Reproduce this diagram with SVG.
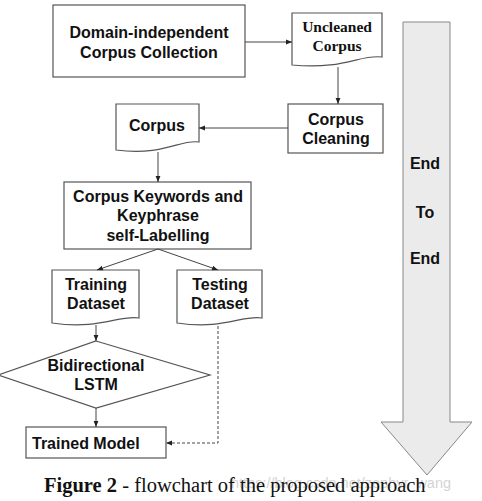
<svg xmlns="http://www.w3.org/2000/svg" width="482" height="501" viewBox="0 0 482 501">
<defs>
<marker id="ah" viewBox="0 0 10 10" refX="10" refY="5" markerWidth="6" markerHeight="6" orient="auto" markerUnits="userSpaceOnUse"><path d="M0,1 L10,5 L0,9 z" fill="#222"/></marker>
</defs>
<style>
.box{fill:#fff;stroke:#555;stroke-width:1.2}
.t{font-family:"Liberation Sans",Arial,sans-serif;font-weight:bold;font-size:16px;fill:#111;text-anchor:middle}
.ts{font-family:"Liberation Serif","Times New Roman",serif;font-weight:bold;font-size:15.5px;fill:#111;text-anchor:middle}
.c{fill:none;stroke:#444;stroke-width:1}
.d{fill:none;stroke:#444;stroke-width:1;stroke-dasharray:3,2}
</style>
<rect width="482" height="501" fill="#fff"/>
<g id="domain">
<rect class="box" x="53" y="5" width="192" height="72"/>
<text class="t" x="149" y="38">Domain-independent</text>
<text class="t" x="149" y="58">Corpus Collection</text>
</g>
<g id="uncleaned">
<path class="box" d="M292,13 H382 V57 C360,54 345,70 292,65 Z"/>
<text class="ts" x="337" y="32">Uncleaned</text>
<text class="ts" x="337" y="51">Corpus</text>
</g>
<g id="cleaning">
<rect class="box" x="288" y="104" width="95" height="49"/>
<text class="t" x="336" y="125">Corpus</text>
<text class="t" x="336" y="144">Cleaning</text>
</g>
<g id="corpus">
<path class="box" d="M116,104 H199 V142 C180,139 165,156 116,150 Z"/>
<text class="t" x="157" y="131">Corpus</text>
</g>
<g id="labelling">
<rect class="box" x="64" y="182" width="187" height="67"/>
<text class="t" x="158" y="202">Corpus Keywords and</text>
<text class="t" x="158" y="221">Keyphrase</text>
<text class="t" x="158" y="241">self-Labelling</text>
</g>
<g id="training">
<path class="box" d="M52,270 H139 V318 C118,315 100,330 52,323 Z"/>
<text class="t" x="96" y="290">Training</text>
<text class="t" x="96" y="309">Dataset</text>
</g>
<g id="testing">
<path class="box" d="M177,270 H262 V318 C241,315 224,330 177,323 Z"/>
<text class="t" x="220" y="290">Testing</text>
<text class="t" x="220" y="309">Dataset</text>
</g>
<g id="bilstm">
<path class="box" d="M96,341 L210,375 L96,408 L-2,375 Z"/>
<text class="t" x="96" y="371">Bidirectional</text>
<text class="t" x="96" y="390">LSTM</text>
</g>
<g id="trained">
<rect class="box" x="26" y="427" width="140" height="31"/>
<text class="t" x="32" y="449" style="text-anchor:start">Trained Model</text>
</g>
<g id="endtoend">
<path d="M403,22 H450 V422 H472 L427,475 L381,422 H403 Z" fill="#ebebeb" stroke="#888" stroke-width="1"/>
<text class="t" x="425" y="169">End</text>
<text class="t" x="425" y="218">To</text>
<text class="t" x="425" y="264">End</text>
</g>
<g id="connectors">
<line class="c" x1="245" y1="42" x2="292" y2="42" marker-end="url(#ah)"/>
<line class="c" x1="338" y1="67" x2="338" y2="104" marker-end="url(#ah)"/>
<line class="c" x1="288" y1="128" x2="199" y2="128" marker-end="url(#ah)"/>
<line class="c" x1="158" y1="152" x2="158" y2="182" marker-end="url(#ah)"/>
<line class="c" x1="158" y1="249" x2="97" y2="270" marker-end="url(#ah)"/>
<line class="c" x1="158" y1="249" x2="218" y2="270" marker-end="url(#ah)"/>
<line class="c" x1="96" y1="325" x2="96" y2="341" marker-end="url(#ah)"/>
<line class="c" x1="96" y1="408" x2="96" y2="427" marker-end="url(#ah)"/>
<path class="d" d="M218,326 V443 H166" marker-end="url(#ah)"/>
</g>
<g id="caption">
<text x="231" y="488" font-family="Liberation Sans,Arial,sans-serif" font-size="14.5" fill="#d4d4d4">https://blog.csdn.net/zephyr_wang</text>
<text x="44" y="492" font-family="Liberation Serif,'Times New Roman',serif" font-size="20.5" fill="#111"><tspan font-weight="bold">Figure 2</tspan> - flowchart of the proposed approach</text>
</g>
</svg>
